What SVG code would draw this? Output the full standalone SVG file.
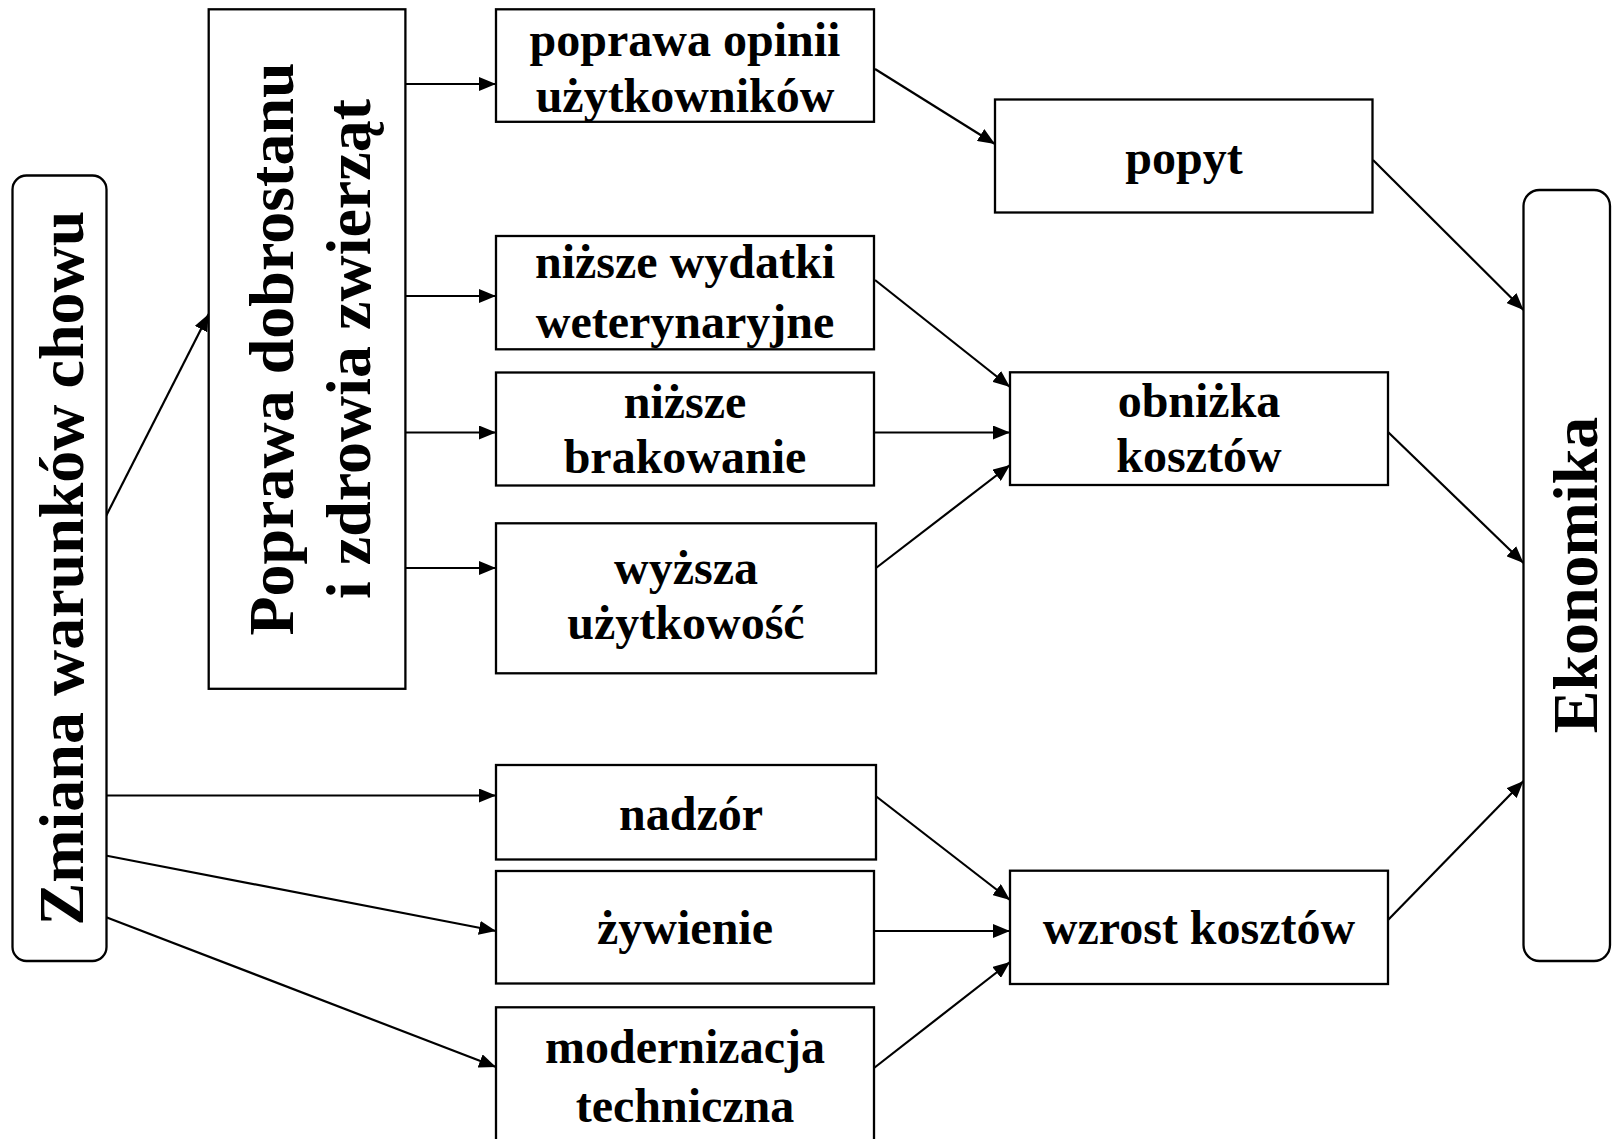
<svg xmlns="http://www.w3.org/2000/svg" width="1612" height="1139" viewBox="0 0 1612 1139">
<style>
.box{fill:#fff;stroke:#000;stroke-width:2.3}
.t{font-family:"Liberation Serif","Times New Roman",serif;font-weight:bold;fill:#000;text-anchor:middle}
.h{font-size:48px}
.v{font-size:64px}
.c{stroke:#000;stroke-width:2.2;fill:none;marker-end:url(#ah)}
</style>
<defs>
<marker id="ah" markerUnits="userSpaceOnUse" markerWidth="17" markerHeight="14" refX="17" refY="7" orient="auto">
<path d="M0,0 L17,7 L0,14 z" fill="#000"/>
</marker>
</defs>
<rect width="1612" height="1139" fill="#fff"/>
<g id="connectors">
<line class="c" x1="103" y1="522" x2="208.7" y2="314"/>
<line class="c" x1="405" y1="84" x2="496" y2="84"/>
<line class="c" x1="405" y1="296" x2="496" y2="296"/>
<line class="c" x1="405" y1="432.5" x2="496" y2="432.5"/>
<line class="c" x1="405" y1="568" x2="496" y2="568"/>
<line class="c" x1="875" y1="69" x2="995" y2="144"/>
<line class="c" x1="1373" y1="160" x2="1523.5" y2="310"/>
<line class="c" x1="875" y1="280" x2="1010" y2="387"/>
<line class="c" x1="874" y1="432.5" x2="1010" y2="432.5"/>
<line class="c" x1="876" y1="568" x2="1010" y2="465"/>
<line class="c" x1="1388" y1="432" x2="1523.5" y2="563"/>
<line class="c" x1="103" y1="795.5" x2="496" y2="795.5"/>
<line class="c" x1="103" y1="855" x2="496" y2="931"/>
<line class="c" x1="103" y1="916" x2="496" y2="1067"/>
<line class="c" x1="875" y1="795.5" x2="1010" y2="900"/>
<line class="c" x1="874" y1="931" x2="1010" y2="931"/>
<line class="c" x1="874" y1="1068" x2="1010" y2="962"/>
<line class="c" x1="1388" y1="920" x2="1523.5" y2="781"/>
</g>
<g id="zmiana">
<rect class="box" x="12.5" y="175.5" width="94" height="785.5" rx="14"/>
<text class="t v" transform="translate(83,568) rotate(-90)">Zmiana warunków chowu</text>
</g>
<g id="poprawa-dobrostanu">
<rect class="box" x="208.7" y="9.3" width="196.7" height="679.5"/>
<text class="t v" transform="translate(293,349) rotate(-90)">Poprawa dobrostanu</text>
<text class="t v" transform="translate(370,349) rotate(-90)">i zdrowia zwierząt</text>
</g>
<g id="poprawa-opinii">
<rect class="box" x="496" y="9.3" width="378" height="112.5"/>
<text class="t h" x="685" y="56">poprawa opinii</text>
<text class="t h" x="685" y="112">użytkowników</text>
</g>
<g id="nizsze-wydatki">
<rect class="box" x="496" y="236" width="378" height="113.3"/>
<text class="t h" x="685" y="278">niższe wydatki</text>
<text class="t h" x="685" y="338">weterynaryjne</text>
</g>
<g id="nizsze-brakowanie">
<rect class="box" x="496" y="372.5" width="378" height="113"/>
<text class="t h" x="685" y="418">niższe</text>
<text class="t h" x="685" y="473">brakowanie</text>
</g>
<g id="wyzsza-uzytkowosc">
<rect class="box" x="496" y="523.3" width="380" height="150"/>
<text class="t h" x="686" y="584">wyższa</text>
<text class="t h" x="686" y="639">użytkowość</text>
</g>
<g id="popyt">
<rect class="box" x="995" y="99.5" width="377.5" height="113"/>
<text class="t h" x="1184" y="174">popyt</text>
</g>
<g id="obnizka-kosztow">
<rect class="box" x="1010" y="372.3" width="378" height="112.7"/>
<text class="t h" x="1199" y="417">obniżka</text>
<text class="t h" x="1199" y="472">kosztów</text>
</g>
<g id="nadzor">
<rect class="box" x="496" y="765" width="380" height="94.5"/>
<text class="t h" x="691" y="830">nadzór</text>
</g>
<g id="zywienie">
<rect class="box" x="496" y="871" width="378" height="112.5"/>
<text class="t h" x="685" y="944">żywienie</text>
</g>
<g id="modernizacja">
<rect class="box" x="496" y="1007.3" width="378" height="145"/>
<text class="t h" x="685" y="1063">modernizacja</text>
<text class="t h" x="685" y="1122">techniczna</text>
</g>
<g id="wzrost-kosztow">
<rect class="box" x="1010" y="870.7" width="378" height="113.3"/>
<text class="t h" x="1199" y="944">wzrost kosztów</text>
</g>
<g id="ekonomika">
<rect class="box" x="1523.5" y="190" width="86.5" height="771" rx="16"/>
<text class="t v" transform="translate(1597,575) rotate(-90)">Ekonomika</text>
</g>
</svg>
